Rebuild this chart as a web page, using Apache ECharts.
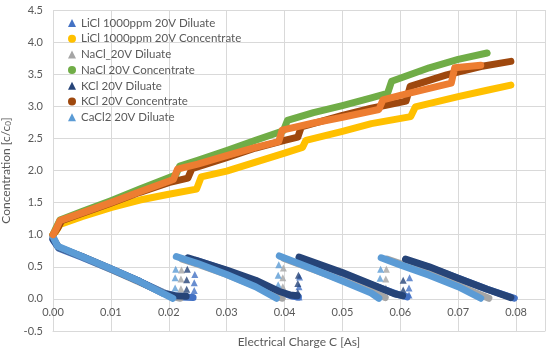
<!DOCTYPE html>
<html>
<head>
<meta charset="utf-8">
<script src="https://cdn.jsdelivr.net/npm/echarts@6/dist/echarts.min.js"></script>
<style>html,body{margin:0;padding:0;background:#fff}#c{width:550px;height:351px}</style>
</head>
<body>
<div id="c"></div>
<script>
// ---------- data ----------
const xTicks = [0, 0.01, 0.02, 0.03, 0.04, 0.05, 0.06, 0.07, 0.08];
const yTicks = [-0.5, 0, 0.5, 1, 1.5, 2, 2.5, 3, 3.5, 4, 4.5];

const names = [
  'LiCl 1000ppm 20V Diluate',
  'LiCl 1000ppm 20V Concentrate',
  'NaCl_20V Diluate',
  'NaCl 20V Concentrate',
  'KCl 20V Diluate',
  'KCl 20V Concentrate',
  'CaCl2 20V Diluate',
  'CaCl2 20V Concentrate'
];

// Diluate: segments of the sawtooth, and the sparse jump points
const liclDilSegs = [
  [[0,0.92],[0.001,0.79],[0.005,0.65],[0.01,0.46],[0.015,0.27],[0.0195,0.08],[0.022,0.03],[0.0242,0.02]],
  [[0.0247,0.6],[0.03,0.44],[0.035,0.27],[0.039,0.11],[0.0415,0.04],[0.0424,0.03]],
  [[0.0428,0.6],[0.05,0.39],[0.055,0.22],[0.0595,0.07],[0.0612,0.03]],
  [[0.0618,0.58],[0.065,0.49],[0.07,0.32],[0.075,0.15],[0.0797,0.01]]
];
const liclDilJumps = [[0.0244,0.13],[0.0244,0.25],[0.0245,0.38],[0.0425,0.03],[0.0425,0.19],[0.0426,0.34],[0.0615,0.06],[0.0615,0.17],[0.0616,0.33]];

const naclDilSegs = [
  [[0,0.95],[0.001,0.8],[0.005,0.66],[0.01,0.46],[0.015,0.26],[0.0205,0.04],[0.022,0.01]],
  [[0.0223,0.62],[0.025,0.54],[0.03,0.38],[0.035,0.2],[0.039,0.03],[0.0396,0.01]],
  [[0.0399,0.63],[0.045,0.46],[0.05,0.29],[0.055,0.12],[0.0574,0.02]],
  [[0.0577,0.62],[0.06,0.55],[0.065,0.39],[0.07,0.21],[0.0753,0.01]]
];
const naclDilJumps = [[0.0221,0.16],[0.0221,0.31],[0.0222,0.45],[0.0397,0.19],[0.0397,0.33],[0.0398,0.48],[0.0575,0.17],[0.0575,0.31],[0.0576,0.46]];

const kclDilSegs = [
  [[0,0.93],[0.001,0.8],[0.005,0.66],[0.01,0.47],[0.015,0.27],[0.019,0.09],[0.021,0.05],[0.023,0.04]],
  [[0.0233,0.64],[0.03,0.45],[0.035,0.29],[0.039,0.12],[0.041,0.06],[0.0422,0.05]],
  [[0.0425,0.65],[0.05,0.41],[0.055,0.23],[0.059,0.08],[0.0604,0.05]],
  [[0.0609,0.62],[0.065,0.5],[0.07,0.32],[0.075,0.15],[0.0791,0.02]]
];
const kclDilJumps = [[0.0231,0.15],[0.0231,0.3],[0.0232,0.46],[0.0423,0.1],[0.0423,0.24],[0.0424,0.37],[0.0605,0.14],[0.0605,0.29]];

const cacl2DilSegs = [
  [[0,0.97],[0.0008,0.82],[0.005,0.66],[0.01,0.47],[0.015,0.27],[0.0207,0.01]],
  [[0.0213,0.66],[0.025,0.55],[0.03,0.38],[0.035,0.19],[0.0386,0.01]],
  [[0.0391,0.67],[0.045,0.46],[0.05,0.28],[0.055,0.09],[0.0563,0.01]],
  [[0.0567,0.64],[0.06,0.53],[0.065,0.37],[0.07,0.19],[0.0739,0.01]]
];
const cacl2DilJumps = [[0.0211,0.17],[0.0211,0.33],[0.0212,0.46],[0.0389,0.22],[0.0389,0.37],[0.039,0.53],[0.0565,0.18],[0.0565,0.32],[0.0566,0.46]];

// Concentrate
const liclConc = [[0,1.0],[0.0005,1.05],[0.0012,1.16],[0.005,1.28],[0.01,1.42],[0.015,1.54],[0.02,1.63],[0.0248,1.71],[0.0256,1.9],[0.03,1.99],[0.035,2.13],[0.04,2.27],[0.0431,2.36],[0.0437,2.47],[0.05,2.61],[0.055,2.73],[0.0618,2.84],[0.0626,2.99],[0.07,3.15],[0.075,3.25],[0.0791,3.33]];
const naclConc = [[0,1.0],[0.0005,1.1],[0.0012,1.23],[0.005,1.36],[0.01,1.53],[0.015,1.71],[0.0212,1.93],[0.0219,2.07],[0.025,2.16],[0.03,2.31],[0.035,2.47],[0.0398,2.62],[0.0405,2.78],[0.045,2.9],[0.05,3.01],[0.055,3.13],[0.0578,3.2],[0.0585,3.39],[0.065,3.6],[0.07,3.73],[0.075,3.83]];
const kclConc = [[0,1.0],[0.0008,1.1],[0.0015,1.22],[0.005,1.33],[0.01,1.49],[0.015,1.66],[0.02,1.81],[0.0233,1.88],[0.024,2.03],[0.03,2.2],[0.035,2.35],[0.04,2.47],[0.0423,2.52],[0.0429,2.68],[0.05,2.86],[0.055,2.97],[0.061,3.08],[0.0617,3.31],[0.068,3.49],[0.0739,3.62],[0.0791,3.7]];
const cacl2Conc = [[0,1.0],[0.0005,1.08],[0.0012,1.22],[0.005,1.34],[0.01,1.5],[0.015,1.67],[0.0208,1.86],[0.0215,2.02],[0.025,2.1],[0.03,2.23],[0.035,2.36],[0.039,2.45],[0.0396,2.63],[0.045,2.74],[0.05,2.83],[0.0563,2.95],[0.057,3.1],[0.06,3.17],[0.065,3.28],[0.0688,3.36],[0.0694,3.6],[0.0739,3.64]];

const colors = {
  licl: '#4472C4', liclC: '#FFC000', nacl: '#A5A5A5', naclC: '#70AD47',
  kcl: '#264478', kclC: '#9E480E', cacl2: '#5B9BD5', cacl2C: '#ED7D31'
};

// ---------- build series ----------
const LW = 7;
function dilSeries(name, segs, jumps, color) {
  const out = segs.map(seg => ({
    name, type: 'line', data: seg, showSymbol: false, symbol: 'triangle',
    color, lineStyle: { width: LW, color, cap: 'round', join: 'round' },
    silent: true, animation: false
  }));
  out.push({
    name, type: 'scatter', data: jumps, symbol: 'triangle', symbolSize: 7,
    color, itemStyle: { color }, silent: true, animation: false
  });
  return out;
}
function concSeries(name, data, color) {
  return [{
    name, type: 'line', data, showSymbol: false, symbol: 'circle',
    color, lineStyle: { width: LW, color, cap: 'round', join: 'round' },
    silent: true, animation: false
  }];
}

const series = [].concat(
  dilSeries(names[0], liclDilSegs, liclDilJumps, colors.licl),
  concSeries(names[1], liclConc, colors.liclC),
  dilSeries(names[2], naclDilSegs, naclDilJumps, colors.nacl),
  concSeries(names[3], naclConc, colors.naclC),
  dilSeries(names[4], kclDilSegs, kclDilJumps, colors.kcl),
  concSeries(names[5], kclConc, colors.kclC),
  dilSeries(names[6], cacl2DilSegs, cacl2DilJumps, colors.cacl2),
  concSeries(names[7], cacl2Conc, colors.cacl2C)
);

const FONT = 'Lato';
const TXT = '#595959';
const GRID = '#d9d9d9';

const chart = echarts.init(document.getElementById('c'), null, { renderer: 'canvas' });
chart.setOption({
  backgroundColor: '#fff',
  animation: false,
  textStyle: { fontFamily: FONT },
  grid: { left: 53, right: 5, top: 10, bottom: 20, containLabel: false, outerBoundsMode: 'none' },
  legend: {
    orient: 'vertical', left: 63, top: 12,
    itemWidth: 8, itemHeight: 8, itemGap: 3.7,
    textStyle: { fontFamily: FONT, fontSize: 11.5, color: TXT, lineHeight: 12 },
    data: [
      { name: names[0], icon: 'triangle', itemStyle: { color: colors.licl } },
      { name: names[1], icon: 'circle', itemStyle: { color: colors.liclC } },
      { name: names[2], icon: 'triangle', itemStyle: { color: colors.nacl } },
      { name: names[3], icon: 'circle', itemStyle: { color: colors.naclC } },
      { name: names[4], icon: 'triangle', itemStyle: { color: colors.kcl } },
      { name: names[5], icon: 'circle', itemStyle: { color: colors.kclC } },
      { name: names[6], icon: 'triangle', itemStyle: { color: colors.cacl2 } }
    ]
  },
  xAxis: {
    type: 'value', min: 0, max: 0.085, interval: 0.01, position: 'bottom',
    axisLine: { show: true, onZero: false, lineStyle: { color: GRID } },
    axisTick: { show: false },
    splitLine: { show: true, lineStyle: { color: GRID, width: 1 } },
    axisLabel: {
      color: TXT, fontSize: 11, fontFamily: FONT, margin: -24,
      formatter: v => {
        const hit = xTicks.find(t => Math.abs(t - v) < 1e-9);
        return hit === undefined ? '' : hit.toFixed(2);
      }
    },
    name: 'Electrical Charge C [As]', nameLocation: 'middle', nameGap: 5, nameMoveOverlap: false,
    nameTextStyle: { color: TXT, fontSize: 12, fontFamily: FONT }
  },
  yAxis: {
    type: 'value', min: yTicks[0], max: yTicks[yTicks.length - 1], interval: 0.5,
    axisLine: { show: false }, axisTick: { show: false },
    splitLine: { show: true, lineStyle: { color: GRID, width: 1 } },
    axisLabel: { color: TXT, fontSize: 11, fontFamily: FONT, margin: 10, formatter: v => v.toFixed(1) },
    name: 'Concentration [c/c{s|0}]', nameLocation: 'middle', nameGap: 34, nameRotate: 90,
    nameTextStyle: {
      color: TXT, fontSize: 12, fontFamily: FONT,
      rich: { s: { fontSize: 8, color: TXT, fontFamily: FONT, verticalAlign: 'bottom', padding: [6, 0, 0, 0] } }
    }
  },
  series
});
</script>
</body>
</html>
